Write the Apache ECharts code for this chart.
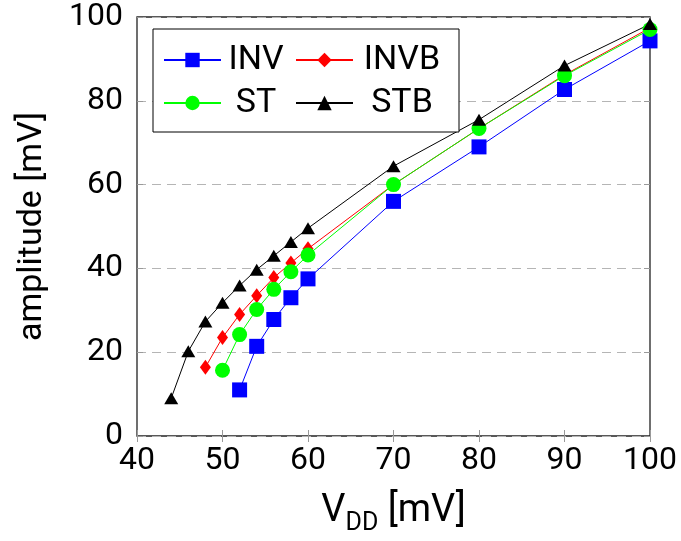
<!DOCTYPE html>
<html>
<head>
<meta charset="utf-8">
<script src="https://cdn.jsdelivr.net/npm/echarts@6/dist/echarts.min.js"></script>
<style>html,body{margin:0;padding:0;background:#fff}#c{width:681px;height:541px}</style>
</head>
<body>
<div id="c"></div>
<script>
const xTicks = [40, 50, 60, 70, 80, 90, 100];
const yTicks = [0, 20, 40, 60, 80, 100];
const invX  = [52, 54, 56, 58, 60, 70, 80, 90, 100];
const invY  = [11, 21.4, 27.8, 33, 37.5, 56, 69, 82.7, 94.3];
const invbX = [48, 50, 52, 54, 56, 58, 60, 70, 80, 90, 100];
const invbY = [16.4, 23.5, 29, 33.5, 37.8, 41.3, 44.7, 60, 73.4, 86.2, 97.4];
const stX   = [50, 52, 54, 56, 58, 60, 70, 80, 90, 100];
const stY   = [15.7, 24.2, 30.2, 35, 39.2, 43.2, 60, 73.4, 86, 97];
const stbX  = [44, 46, 48, 50, 52, 54, 56, 58, 60, 70, 80, 90, 100];
const stbY  = [9, 20.2, 27.3, 31.8, 35.9, 39.7, 43, 46.3, 49.6, 64.4, 75.5, 88.4, 98.3];

const FONT = 'Roboto';
const zip = (xs, ys) => xs.map((x, i) => [x, ys[i]]);

const chart = echarts.init(document.getElementById('c'), null, {renderer: 'canvas'});
const tickStyle = {show: true, inside: true, length: 6, lineStyle: {color: '#999', width: 1}};
const common = {min: 40, max: 100, interval: 10};
const ycommon = {min: 0, max: 100, interval: 20};

function mk(name, xs, ys, color, symbol, size) {
  return {
    name, type: 'line', data: zip(xs, ys), color,
    symbol, symbolSize: size,
    lineStyle: {color, width: 1},
    itemStyle: {color},
    animation: false
  };
}

chart.setOption({
  backgroundColor: '#fff',
  animation: false,
  textStyle: {fontFamily: FONT},
  grid: {left: 137, right: 31, top: 17, bottom: 103, show: true, borderColor: '#222', borderWidth: 1.3, backgroundColor: 'transparent'},
  legend: {
    left: 153, top: 29, width: 285,
    orient: 'horizontal',
    padding: [14, 13, 12, 10],
    itemGap: 9,
    itemWidth: 57, itemHeight: 18,
    borderColor: '#000', borderWidth: 1, backgroundColor: '#fff',
    data: ['INV', 'INVB', 'ST', 'STB'],
    formatter: function (n) { return (n.length > 3 || n === 'STB') ? '{b|' + n + '}' : '{a|' + n + '}'; },
    textStyle: {
      fontFamily: FONT, fontSize: 34, color: '#000',
      rich: {
        a: {width: 60, align: 'center', fontSize: 34, lineHeight: 39, fontFamily: FONT, color: '#000'},
        b: {width: 88, align: 'center', fontSize: 34, lineHeight: 39, fontFamily: FONT, color: '#000'}
      }
    }
  },
  xAxis: [{
    type: 'value', position: 'bottom', ...common,
    name: '{v|V}{s|DD}{v| [mV]}', nameLocation: 'middle', nameGap: 50,
    nameTextStyle: {
      rich: {
        v: {fontSize: 38, fontFamily: FONT, color: '#000', verticalAlign: 'bottom', lineHeight: 44},
        s: {fontSize: 25, fontFamily: FONT, color: '#000', verticalAlign: 'bottom', lineHeight: 44, padding: [0, 0, -6, 0]}
      }
    },
    axisLine: {show: false},
    axisTick: tickStyle,
    splitLine: {show: false},
    axisLabel: {fontSize: 32, fontFamily: FONT, color: '#000', margin: 9,
      customValues: xTicks}
  }, {
    type: 'value', position: 'top', ...common,
    axisLine: {show: false}, axisTick: tickStyle, axisLabel: {show: false}, splitLine: {show: false}
  }],
  yAxis: [{
    type: 'value', position: 'left', ...ycommon,
    name: 'amplitude [mV]', nameLocation: 'middle', nameGap: 88,
    nameTextStyle: {fontSize: 34, fontFamily: FONT, color: '#000'},
    axisLine: {show: false},
    axisTick: tickStyle,
    splitLine: {show: true, lineStyle: {color: '#b5b5b5', width: 1.2, type: [9, 6]}},
    axisLabel: {fontSize: 32, fontFamily: FONT, color: '#000', margin: 14}
  }, {
    type: 'value', position: 'right', ...ycommon,
    axisLine: {show: false}, axisTick: tickStyle, axisLabel: {show: false}, splitLine: {show: false}
  }],
  series: [
    mk('INV', invX, invY, '#0000ff', 'rect', 15),
    mk('INVB', invbX, invbY, '#ff0000', 'diamond', [11, 15]),
    mk('ST', stX, stY, '#00ff00', 'circle', 15),
    mk('STB', stbX, stbY, '#000000', 'triangle', [14, 12])
  ]
});
</script>
</body>
</html>
